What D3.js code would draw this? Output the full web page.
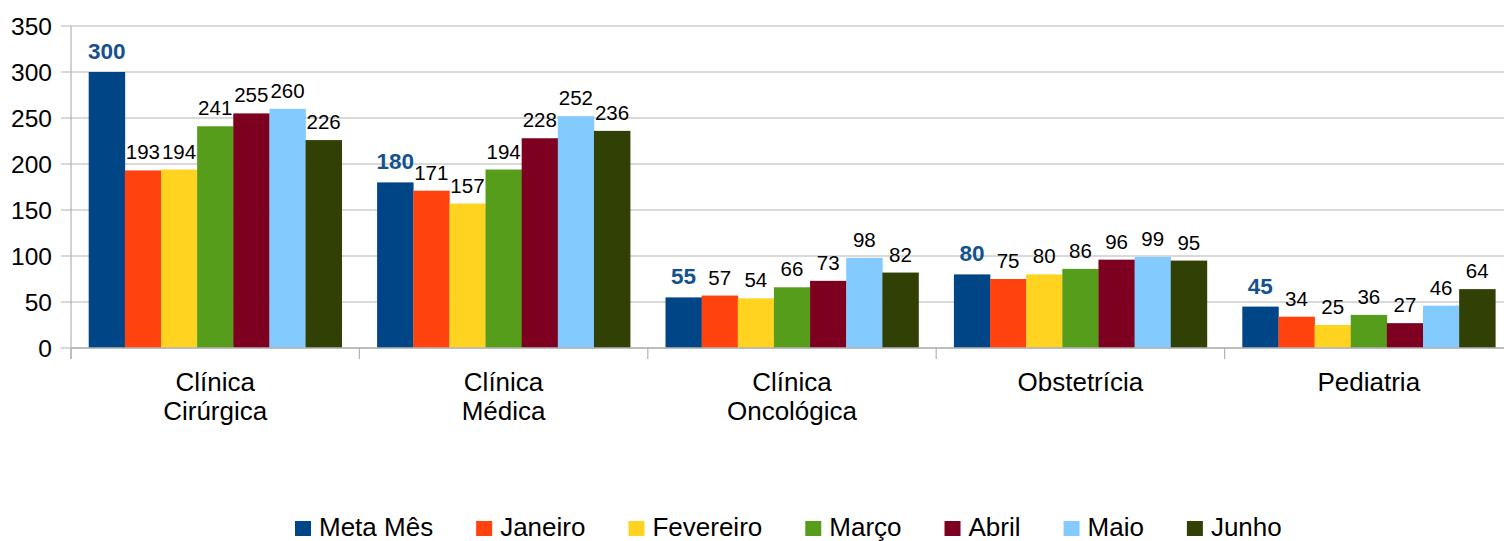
<!DOCTYPE html>
<html><head><meta charset="utf-8">
<script src="https://cdn.jsdelivr.net/npm/d3@7"></script>
<style>body{margin:0;background:#fff}svg{display:block;font-family:"Liberation Sans",Arial,sans-serif}</style>
</head><body><svg id="c" width="1504" height="541"></svg>
<script>
const categories = [["Clínica","Cirúrgica"],["Clínica","Médica"],["Clínica","Oncológica"],["Obstetrícia"],["Pediatria"]];
const seriesNames = ["Meta Mês","Janeiro","Fevereiro","Março","Abril","Maio","Junho"];
const metaMes   = [300,180,55,80,45];
const janeiro   = [193,171,57,75,34];
const fevereiro = [194,157,54,80,25];
const marco     = [241,194,66,86,36];
const abril     = [255,228,73,96,27];
const maio      = [260,252,98,99,46];
const junho     = [226,236,82,95,64];
const yTicks = [0,50,100,150,200,250,300,350];
const colors = ["#004586","#ff420e","#ffd320","#579d1c","#7e0021","#83caff","#314004"];

const series = [metaMes,janeiro,fevereiro,marco,abril,maio,junho];
const svg = d3.select("#c");
const L = 71, R = 1513, T = 26, B = 348;
const x0 = d3.scaleBand().domain(d3.range(categories.length)).range([L,R]).paddingInner(0).paddingOuter(0);
const inner = 17.7;
const x1 = d3.scaleBand().domain(d3.range(series.length)).range([inner, x0.bandwidth()-inner]).padding(0);
const y = d3.scaleLinear().domain([0,350]).range([B,T]);

// grid
svg.append("g").selectAll("line").data(yTicks).join("line")
  .attr("x1",61).attr("x2",R).attr("y1",d=>y(d)).attr("y2",d=>y(d))
  .attr("stroke","#b3b3b3").attr("stroke-width",1.2);
// y axis line
svg.append("line").attr("x1",L).attr("x2",L).attr("y1",T).attr("y2",B+11).attr("stroke","#b3b3b3").attr("stroke-width",1.2);
// category ticks
svg.append("g").selectAll("line").data(d3.range(categories.length+1)).join("line")
  .attr("x1",d=>L+d*x0.step()).attr("x2",d=>L+d*x0.step()).attr("y1",B).attr("y2",B+11)
  .attr("stroke","#b3b3b3").attr("stroke-width",1.2);
// y tick labels
svg.append("g").selectAll("text").data(yTicks).join("text")
  .attr("x",52).attr("y",d=>y(d)).attr("dy","0.36em").attr("text-anchor","end")
  .attr("font-size",24.5).attr("fill","#000").text(d=>d);

// bars
series.forEach((vals,si)=>{
  const g = svg.append("g");
  g.selectAll("rect").data(vals).join("rect")
    .attr("x",(d,i)=>x0(i)+x1(si)).attr("width",x1.bandwidth()+0.3)
    .attr("y",d=>y(d)).attr("height",d=>B-y(d)).attr("fill",colors[si]);
  g.selectAll("text").data(vals).join("text")
    .attr("x",(d,i)=>x0(i)+x1(si)+x1.bandwidth()/2)
    .attr("y",d=>y(d)-(si===0?13:11))
    .attr("text-anchor","middle")
    .attr("font-size",si===0?22.5:20.5)
    .attr("font-weight",si===0?"bold":"normal")
    .attr("fill",si===0?"#14528f":"#000")
    .text(d=>d);
});
// baseline
svg.append("line").attr("x1",L).attr("x2",R).attr("y1",B).attr("y2",B).attr("stroke","#b3b3b3").attr("stroke-width",1.5);

// category labels
categories.forEach((lines,i)=>{
  const t = svg.append("text").attr("text-anchor","middle").attr("font-size",26).attr("fill","#000");
  lines.forEach((ln,j)=>{
    t.append("tspan").attr("x",x0(i)+x0.bandwidth()/2).attr("y",391+j*29).text(ln);
  });
});

// legend
let lx = 295;
const ly = 521;
seriesNames.forEach((n,i)=>{
  svg.append("rect").attr("x",lx).attr("y",ly).attr("width",16).attr("height",15).attr("fill",colors[i]);
  const t = svg.append("text").attr("x",lx+24).attr("y",ly+15).attr("font-size",26).attr("fill","#000").text(n);
  const w = t.node().getComputedTextLength();
  lx += 24 + w + 43;
});
</script></body></html>
